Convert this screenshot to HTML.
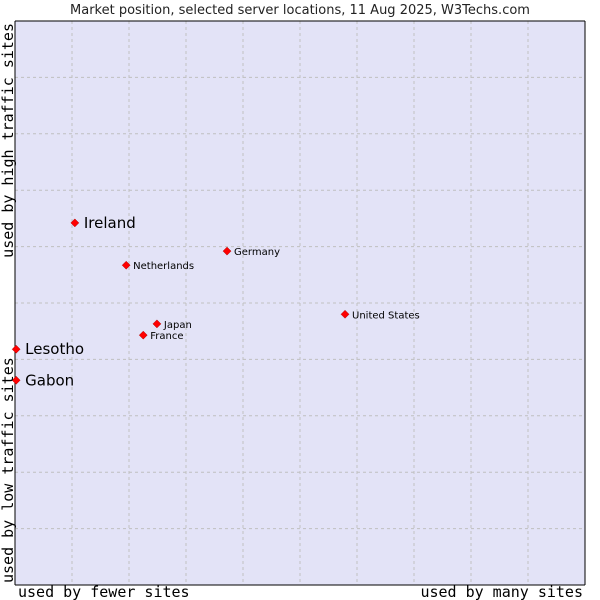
<!DOCTYPE html>
<html><head><meta charset="utf-8"><style>
body{margin:0;background:#fff;width:600px;height:600px;overflow:hidden}
svg{display:block}
</style></head><body>
<svg id="chart" width="600" height="600" font-family="'DejaVu Sans', sans-serif">
<text x="300" y="14" text-anchor="middle" font-size="13" fill="#222">Market position, selected server locations, 11 Aug 2025, W3Techs.com</text>
<rect x="15" y="21" width="570" height="564" fill="#e3e3f7"/>
<g id="grid"></g>
<line x1="15" y1="21" x2="585" y2="21" stroke="#000"/>
<line x1="15" y1="21" x2="15" y2="585" stroke="#000"/>
<line x1="15" y1="585" x2="585" y2="585" stroke="#000"/>
<line x1="585" y1="21" x2="585" y2="585" stroke="#000"/>
<g id="points"></g>
<text x="18" y="597" font-family="'DejaVu Sans Mono','Liberation Mono',monospace" font-size="15" fill="#000">used by fewer sites</text>
<text x="583" y="597" text-anchor="end" font-family="'DejaVu Sans Mono','Liberation Mono',monospace" font-size="15" fill="#000">used by many sites</text>
<text transform="translate(13,583) rotate(-90)" font-family="'DejaVu Sans Mono','Liberation Mono',monospace" font-size="15" fill="#000">used by low traffic sites</text>
<text transform="translate(13,23) rotate(-90)" text-anchor="end" font-family="'DejaVu Sans Mono','Liberation Mono',monospace" font-size="15" fill="#000">used by high traffic sites</text>
</svg>
<script>
const names=["Ireland","Germany","Netherlands","United States","Japan","France","Lesotho","Gabon"];
const xVals=[10.5,37.2,19.5,57.9,24.9,22.5,0.2,0.2];
const yVals=[64.2,59.2,56.7,48.0,46.3,44.3,41.8,36.3];
const big=[true,false,false,false,false,false,true,true];
const NS="http://www.w3.org/2000/svg";
const L=15,R=585,T=21,B=585;
const sx=v=>L+v/100*(R-L), sy=v=>B-v/100*(B-T);
const grid=document.getElementById('grid');
for(let i=1;i<10;i++){
  const gx=document.createElementNS(NS,'line');
  
  
  gx.setAttribute('x1',sx(i*10));gx.setAttribute('x2',sx(i*10));gx.setAttribute('y1',T);gx.setAttribute('y2',B);
  gx.setAttribute('stroke','#c0c0c0');gx.setAttribute('stroke-dasharray','3,3');
  grid.appendChild(gx);
  const gy=document.createElementNS(NS,'line');
  
  
  gy.setAttribute('y1',sy(i*10));gy.setAttribute('y2',sy(i*10));gy.setAttribute('x1',L);gy.setAttribute('x2',R);
  gy.setAttribute('stroke','#c0c0c0');gy.setAttribute('stroke-dasharray','3,3');
  grid.appendChild(gy);
}
const pts=document.getElementById('points');
names.forEach((n,i)=>{
  const x=sx(xVals[i]),y=sy(yVals[i]);
  const d=document.createElementNS(NS,'path');
  
  
  d.setAttribute('d',`M${x},${y-4}L${x+4},${y}L${x},${y+4}L${x-4},${y}Z`);
  d.setAttribute('fill','#f00');d.setAttribute('stroke','#a00');d.setAttribute('stroke-width','0.5');
  pts.appendChild(d);
  const t=document.createElementNS(NS,'text');
  
  
  t.setAttribute('x',x+(big[i]?9:7));t.setAttribute('y',y+(big[i]?5:4));
  t.setAttribute('font-size',big[i]?'15':'10');t.setAttribute('fill','#000');
  t.textContent=n;
  pts.appendChild(t);
});
</script>
</body></html>
